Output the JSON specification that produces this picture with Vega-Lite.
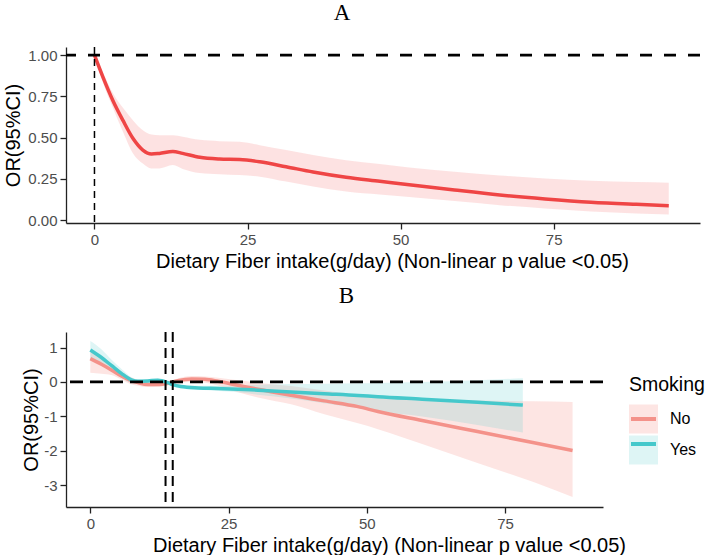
{
  "$schema": "https://vega.github.io/schema/vega-lite/v6.json",
  "background": "white",
  "padding": {"left": 3, "top": 2, "right": 2, "bottom": 0},
  "spacing": 14,
  "datasets": {
    "A": [
      {"x": 0, "y": 1.0, "lo": 0.995, "hi": 1.005},
      {"x": 1.4, "y": 0.865, "lo": 0.83, "hi": 0.895},
      {"x": 3.0, "y": 0.725, "lo": 0.68, "hi": 0.77},
      {"x": 4.65, "y": 0.604, "lo": 0.535, "hi": 0.68},
      {"x": 6.3, "y": 0.494, "lo": 0.404, "hi": 0.604},
      {"x": 7.9, "y": 0.424, "lo": 0.343, "hi": 0.544},
      {"x": 9.3, "y": 0.4, "lo": 0.313, "hi": 0.518},
      {"x": 10.6, "y": 0.404, "lo": 0.313, "hi": 0.514},
      {"x": 12.8, "y": 0.416, "lo": 0.333, "hi": 0.514},
      {"x": 14.4, "y": 0.404, "lo": 0.31, "hi": 0.505},
      {"x": 17.2, "y": 0.38, "lo": 0.285, "hi": 0.486},
      {"x": 20.4, "y": 0.37, "lo": 0.278, "hi": 0.478},
      {"x": 23.7, "y": 0.367, "lo": 0.273, "hi": 0.474},
      {"x": 27.0, "y": 0.353, "lo": 0.263, "hi": 0.454},
      {"x": 31.3, "y": 0.323, "lo": 0.233, "hi": 0.424},
      {"x": 35.7, "y": 0.291, "lo": 0.203, "hi": 0.394},
      {"x": 41.1, "y": 0.259, "lo": 0.173, "hi": 0.363},
      {"x": 46.6, "y": 0.235, "lo": 0.155, "hi": 0.339},
      {"x": 51.4, "y": 0.214, "lo": 0.14, "hi": 0.318},
      {"x": 58.8, "y": 0.182, "lo": 0.115, "hi": 0.292},
      {"x": 66.2, "y": 0.152, "lo": 0.09, "hi": 0.27},
      {"x": 73.6, "y": 0.128, "lo": 0.07, "hi": 0.252},
      {"x": 81.1, "y": 0.108, "lo": 0.052, "hi": 0.238},
      {"x": 88.5, "y": 0.095, "lo": 0.04, "hi": 0.23},
      {"x": 93.8, "y": 0.087, "lo": 0.034, "hi": 0.226}
    ],
    "Ah": [{"y": 1}],
    "Av": [{"x": 0}],
    "B": [
      {"Smoking": "No", "x": 0, "y": 0.678, "lo": 0.27, "hi": 0.88},
      {"Smoking": "No", "x": 2.0, "y": 0.513, "lo": 0.24, "hi": 0.72},
      {"Smoking": "No", "x": 3.8, "y": 0.35, "lo": 0.2, "hi": 0.5},
      {"Smoking": "No", "x": 5.6, "y": 0.174, "lo": 0.07, "hi": 0.29},
      {"Smoking": "No", "x": 7.1, "y": 0.058, "lo": -0.05, "hi": 0.15},
      {"Smoking": "No", "x": 8.6, "y": -0.02, "lo": -0.11, "hi": 0.06},
      {"Smoking": "No", "x": 10.4, "y": -0.077, "lo": -0.15, "hi": 0.0},
      {"Smoking": "No", "x": 12.2, "y": -0.077, "lo": -0.14, "hi": -0.01},
      {"Smoking": "No", "x": 14.0, "y": -0.039, "lo": -0.1, "hi": 0.02},
      {"Smoking": "No", "x": 15.8, "y": 0.039, "lo": -0.03, "hi": 0.1},
      {"Smoking": "No", "x": 18.3, "y": 0.087, "lo": 0.0, "hi": 0.17},
      {"Smoking": "No", "x": 20.7, "y": 0.077, "lo": -0.02, "hi": 0.16},
      {"Smoking": "No", "x": 23.1, "y": 0.019, "lo": -0.1, "hi": 0.12},
      {"Smoking": "No", "x": 26.7, "y": -0.097, "lo": -0.3, "hi": 0.05},
      {"Smoking": "No", "x": 30.3, "y": -0.213, "lo": -0.45, "hi": -0.02},
      {"Smoking": "No", "x": 36.3, "y": -0.387, "lo": -0.65, "hi": -0.12},
      {"Smoking": "No", "x": 42.3, "y": -0.55, "lo": -0.94, "hi": -0.25},
      {"Smoking": "No", "x": 48.4, "y": -0.716, "lo": -1.2, "hi": -0.38},
      {"Smoking": "No", "x": 52.0, "y": -0.86, "lo": -1.37, "hi": -0.44},
      {"Smoking": "No", "x": 60, "y": -1.12, "lo": -1.8, "hi": -0.5},
      {"Smoking": "No", "x": 70, "y": -1.44, "lo": -2.35, "hi": -0.54},
      {"Smoking": "No", "x": 80, "y": -1.76, "lo": -2.9, "hi": -0.56},
      {"Smoking": "No", "x": 87.2, "y": -1.99, "lo": -3.34, "hi": -0.58},
      {"Smoking": "Yes", "x": 0, "y": 0.93, "lo": 0.62, "hi": 1.19},
      {"Smoking": "Yes", "x": 2.0, "y": 0.71, "lo": 0.5, "hi": 0.95},
      {"Smoking": "Yes", "x": 3.8, "y": 0.48, "lo": 0.33, "hi": 0.65},
      {"Smoking": "Yes", "x": 5.6, "y": 0.25, "lo": 0.13, "hi": 0.38},
      {"Smoking": "Yes", "x": 7.4, "y": 0.06, "lo": -0.03, "hi": 0.14},
      {"Smoking": "Yes", "x": 8.6, "y": 0.02, "lo": -0.04, "hi": 0.08},
      {"Smoking": "Yes", "x": 10.4, "y": 0.03, "lo": -0.02, "hi": 0.08},
      {"Smoking": "Yes", "x": 12.2, "y": 0.05, "lo": 0.0, "hi": 0.09},
      {"Smoking": "Yes", "x": 14.0, "y": -0.02, "lo": -0.07, "hi": 0.03},
      {"Smoking": "Yes", "x": 14.9, "y": -0.08, "lo": -0.13, "hi": -0.03},
      {"Smoking": "Yes", "x": 16.4, "y": -0.135, "lo": -0.19, "hi": -0.08},
      {"Smoking": "Yes", "x": 19.5, "y": -0.174, "lo": -0.23, "hi": -0.11},
      {"Smoking": "Yes", "x": 23.1, "y": -0.19, "lo": -0.26, "hi": -0.11},
      {"Smoking": "Yes", "x": 26.7, "y": -0.21, "lo": -0.3, "hi": -0.1},
      {"Smoking": "Yes", "x": 30.3, "y": -0.24, "lo": -0.37, "hi": -0.08},
      {"Smoking": "Yes", "x": 36.3, "y": -0.29, "lo": -0.48, "hi": -0.06},
      {"Smoking": "Yes", "x": 42.3, "y": -0.34, "lo": -0.62, "hi": -0.05},
      {"Smoking": "Yes", "x": 48.4, "y": -0.39, "lo": -0.76, "hi": -0.04},
      {"Smoking": "Yes", "x": 52.0, "y": -0.43, "lo": -0.85, "hi": -0.03},
      {"Smoking": "Yes", "x": 60, "y": -0.5, "lo": -1.0, "hi": 0.0},
      {"Smoking": "Yes", "x": 70, "y": -0.59, "lo": -1.25, "hi": 0.05},
      {"Smoking": "Yes", "x": 78.2, "y": -0.67, "lo": -1.47, "hi": 0.11}
    ],
    "Bh": [{"y": 0}],
    "Bv": [{"x": 13.6}, {"x": 14.9}]
  },
  "vconcat": [
    {
      "title": {"text": "A", "anchor": "middle", "frame": "group", "dx": -41, "offset": 21},
      "width": 634,
      "height": 176,
      "layer": [
        {
          "data": {"name": "A"},
          "mark": {"type": "area", "color": "#F04848", "opacity": 0.16, "interpolate": "monotone"},
          "encoding": {
            "x": {"field": "x", "type": "quantitative",
                  "scale": {"domain": [-4.65, 98.9], "nice": false, "zero": false},
                  "axis": {"values": [0, 25, 50, 75], "title": "Dietary Fiber intake(g/day) (Non-linear p value <0.05)", "titleX": 326, "labelPadding": 3, "titlePadding": 4}},
            "y": {"field": "lo", "type": "quantitative",
                  "scale": {"domain": [-0.018, 1.049], "nice": false, "zero": false},
                  "axis": {"values": [0, 0.25, 0.5, 0.75, 1], "format": ".2f", "title": "OR(95%CI)", "titlePadding": 4}},
            "y2": {"field": "hi"}
          }
        },
        {
          "data": {"name": "A"},
          "mark": {"type": "line", "color": "#EF4545", "strokeWidth": 3.5, "interpolate": "monotone"},
          "encoding": {
            "x": {"field": "x", "type": "quantitative"},
            "y": {"field": "y", "type": "quantitative"}
          }
        },
        {
          "data": {"name": "Ah"},
          "mark": {"type": "rule", "color": "black", "strokeWidth": 2.8, "strokeDash": [12, 12]},
          "encoding": {"y": {"field": "y", "type": "quantitative"}}
        },
        {
          "data": {"name": "Av"},
          "mark": {"type": "rule", "color": "black", "strokeWidth": 1.5, "strokeDash": [7, 5]},
          "encoding": {"x": {"field": "x", "type": "quantitative"}}
        }
      ]
    },
    {
      "title": {"text": "B", "anchor": "middle", "frame": "group", "dx": 12, "offset": 23},
      "width": 537,
      "height": 175,
      "layer": [
        {
          "data": {"name": "B"},
          "mark": {"type": "area", "opacity": 0.2, "interpolate": "monotone"},
          "encoding": {
            "x": {"field": "x", "type": "quantitative",
                  "scale": {"domain": [-4.4, 92.7], "nice": false, "zero": false},
                  "axis": {"values": [0, 25, 50, 75], "title": "Dietary Fiber intake(g/day) (Non-linear p value <0.05)", "titleX": 323, "labelPadding": 3, "titlePadding": 4}},
            "y": {"field": "lo", "type": "quantitative",
                  "scale": {"domain": [-3.63, 1.45], "nice": false, "zero": false},
                  "axis": {"values": [-3, -2, -1, 0, 1], "labelExpr": "'' + datum.value", "title": "OR(95%CI)", "titlePadding": 2}},
            "y2": {"field": "hi"},
            "fill": {"field": "Smoking", "type": "nominal",
                     "scale": {"domain": ["No", "Yes"], "range": ["#F57D73", "#5ACDCD"]},
                     "legend": {"orient": "none", "legendX": 563, "legendY": 44, "title": "Smoking",
                                "symbolType": "square", "symbolSize": 841, "symbolStrokeWidth": 0, "symbolOpacity": 0.2,
                                "titleFontSize": 19.5, "titleFont": "Liberation Sans", "titleFontWeight": "normal", "titleColor": "black",
                                "labelFontSize": 16, "labelFont": "Liberation Sans", "labelColor": "black", "labelOffset": 12,
                                "rowPadding": 2, "titlePadding": 9}}
          }
        },
        {
          "data": {"name": "B"},
          "mark": {"type": "line", "strokeWidth": 3.5, "interpolate": "monotone"},
          "encoding": {
            "x": {"field": "x", "type": "quantitative"},
            "y": {"field": "y", "type": "quantitative"},
            "stroke": {"field": "Smoking", "type": "nominal",
                       "scale": {"range": ["#F4928A", "#45C8CB"]},
                       "legend": {"orient": "none", "legendX": 563, "legendY": 44, "title": "Smoking",
                                  "symbolType": "stroke", "symbolSize": 625, "symbolStrokeWidth": 4,
                                  "titleFontSize": 19.5, "titleFont": "Liberation Sans", "titleFontWeight": "normal", "titleOpacity": 0,
                                  "labelFontSize": 16, "labelFont": "Liberation Sans", "labelExpr": "''", "labelOffset": 12,
                                  "rowPadding": 2, "titlePadding": 9}}
          }
        },
        {
          "data": {"name": "Bh"},
          "mark": {"type": "rule", "color": "black", "strokeWidth": 2.8, "strokeDash": [13, 7]},
          "encoding": {"y": {"field": "y", "type": "quantitative"}}
        },
        {
          "data": {"name": "Bv"},
          "mark": {"type": "rule", "color": "black", "strokeWidth": 2, "strokeDash": [10, 6]},
          "encoding": {"x": {"field": "x", "type": "quantitative"}}
        }
      ],
      "resolve": {"scale": {"fill": "independent", "stroke": "independent"}, "legend": {"fill": "independent", "stroke": "independent"}}
    }
  ],
  "config": {
    "view": {"stroke": null},
    "axis": {
      "grid": false,
      "domainColor": "#222222", "domainWidth": 1.3,
      "tickColor": "#222222", "tickWidth": 1.3, "tickSize": 6,
      "labelFont": "Liberation Sans", "labelFontSize": 15, "labelColor": "#4D4D4D", "labelPadding": 3,
      "titleFont": "Liberation Sans", "titleFontSize": 20, "titleFontWeight": "normal", "titleColor": "black"
    },
    "title": {"font": "Liberation Serif", "fontSize": 23, "fontWeight": "normal", "color": "black"}
  }
}
